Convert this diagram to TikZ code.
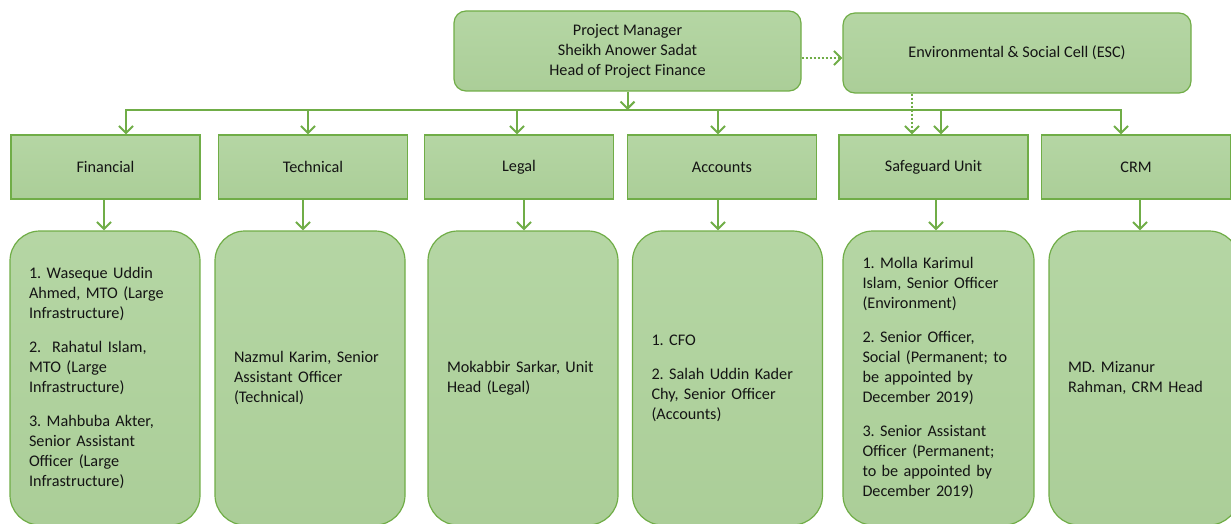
\documentclass[tikz,border=0pt]{standalone}
\usepackage{fontspec}
\setmainfont{Carlito}
\frenchspacing
\usetikzlibrary{arrows.meta}

\definecolor{boxtop}{HTML}{B5D6A4}
\definecolor{boxbot}{HTML}{ABCE98}
\definecolor{edge}{HTML}{70AD47}
\definecolor{ink}{HTML}{141414}

\tikzset{
  base/.style={draw=edge, line width=1.2pt, top color=boxtop, bottom color=boxbot,
    text=ink, font=\fontsize{16.2}{20}\selectfont, inner sep=0pt},
  headbox/.style={base, rounded corners=12pt, minimum width=347pt, minimum height=80pt, align=center},
  unitbox/.style={base, minimum width=189pt, minimum height=64pt},
  staffbox/.style={base, rounded corners=30pt, minimum width=190pt, minimum height=294pt,
    text width=152pt, align=left},
  link/.style={draw=edge, line width=2pt},
  arr/.style={link, -{Straight Barb[length=7pt,width=14pt]}},
  dotarr/.style={arr, dash pattern=on 2pt off 2pt},
}

\begin{document}
\begin{tikzpicture}[x=1pt, y=-1pt]
\useasboundingbox (0,0) rectangle (1231,524);
\clip (0,0) rectangle (1231,524);

% top level
\node[headbox] (pm) at (627.5,51) {Project Manager\\Sheikh Anower Sadat\\Head of Project Finance};
\node[headbox, minimum width=348pt] (esc) at (1017,53) {Environmental \& Social Cell (ESC)};

% units
\node[unitbox] (fin)   at (105.5,167) {Financial};
\node[unitbox] (tech)  at (313,167)   {Technical};
\node[unitbox] (legal) at (519,167)   {Legal};
\node[unitbox] (acc)   at (722,167)   {Accounts};
\node[unitbox] (safe)  at (933.5,167) {Safeguard Unit};
\node[unitbox] (crm)   at (1136,167)  {CRM};

% staff
\node[staffbox] (sfin) at (105,378) {1. Waseque Uddin\\Ahmed, MTO (Large\\Infrastructure)\\[14pt]
  2.~~Rahatul Islam,\\MTO (Large\\Infrastructure)\\[14pt]
  3. Mahbuba Akter,\\Senior Assistant\\Officer (Large\\Infrastructure)};
\node[staffbox] (stech) at (310,378) {Nazmul Karim, Senior\\Assistant Officer\\(Technical)};
\node[staffbox] (slegal) at (523,378) {Mokabbir Sarkar, Unit\\Head (Legal)};
\node[staffbox] (sacc) at (727.5,378) {1. CFO\\[14pt]2. Salah Uddin Kader\\Chy, Senior Officer\\(Accounts)};
\node[staffbox, minimum width=191pt] (ssafe) at (938.5,378) {1. Molla Karimul\\Islam, Senior Officer\\(Environment)\\[14pt]
  2. Senior Officer,\\Social (Permanent; to\\be appointed by\\December 2019)\\[14pt]
  3. Senior Assistant\\Officer (Permanent;\\to be appointed by\\December 2019)};
\node[staffbox] (scrm) at (1144,378) {MD. Mizanur\\Rahman, CRM Head};

% distribution bus
\coordinate (busL) at (126,110);
\coordinate (busR) at (1121,110);
\draw[arr] (pm.south) -- (pm.south |- busL);
\draw[link, line cap=rect] (busL) -- (busR);
\foreach \x/\n in {126/fin, 308/tech, 517/legal, 718/acc, 941/safe, 1121/crm} {
  \coordinate (d\n) at (\x,110);
  \draw[arr] (d\n) -- (d\n |- \n.north);
}

% unit to staff
\foreach \x/\n in {104/fin, 303/tech, 524/legal, 718/acc, 936/safe, 1140/crm} {
  \coordinate (a\n) at (\x,0);
  \draw[arr] (a\n |- \n.south) -- (a\n |- s\n.north);
}

% dotted links of the ESC
\coordinate (dotY) at (0,58);
\draw[dotarr] (pm.east |- dotY) -- (esc.west |- dotY);
\coordinate (escX) at (912,0);
\draw[dotarr] (escX |- esc.south) -- (escX |- safe.north);
\end{tikzpicture}
\end{document}
